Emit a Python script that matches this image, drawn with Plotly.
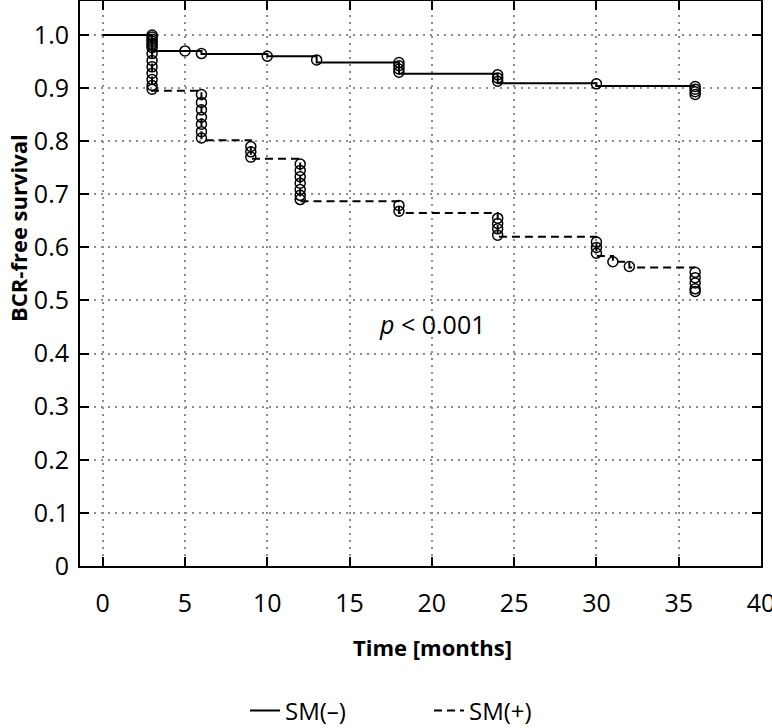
import plotly.graph_objects as go

# ---- data ----
neg_t = [0, 3, 6, 10, 13, 18, 24, 30, 36]
neg_s = [1.0, 0.970, 0.964, 0.960, 0.948, 0.927, 0.909, 0.904, 0.904]

pos_t = [0, 3, 6, 9, 12, 18, 24, 30, 31, 32, 36]
pos_s = [1.0, 0.895, 0.802, 0.767, 0.687, 0.665, 0.620, 0.584, 0.573, 0.562, 0.562]

neg_cens_t = [3, 3, 3, 3, 3, 3, 3, 5, 6, 10, 13, 18, 18, 18, 18, 24, 24, 24, 30, 36, 36, 36, 36]
neg_cens_s = [1.0, 0.996, 0.992, 0.988, 0.984, 0.980, 0.976, 0.970, 0.965, 0.960, 0.953,
              0.948, 0.942, 0.936, 0.930, 0.925, 0.919, 0.913, 0.908, 0.903, 0.898, 0.893, 0.888]

pos_cens_t = [3, 3, 3, 3, 3, 3, 3,
              6, 6, 6, 6, 6, 6, 6,
              9, 9, 9,
              12, 12, 12, 12, 12, 12, 12,
              18, 18,
              24, 24, 24, 24,
              30, 30, 30,
              31, 32,
              36, 36, 36, 36, 36]
pos_cens_s = [0.965, 0.952, 0.940, 0.928, 0.916, 0.905, 0.898,
              0.888, 0.873, 0.859, 0.845, 0.832, 0.818, 0.806,
              0.790, 0.780, 0.770,
              0.757, 0.745, 0.733, 0.721, 0.709, 0.698, 0.690,
              0.679, 0.668,
              0.655, 0.645, 0.635, 0.623,
              0.610, 0.600, 0.589,
              0.573, 0.564,
              0.553, 0.543, 0.533, 0.522, 0.517]

x_ticks = [0, 5, 10, 15, 20, 25, 30, 35, 40]
y_ticks = [0, 0.1, 0.2, 0.3, 0.4, 0.5, 0.6, 0.7, 0.8, 0.9, 1.0]
y_ticktext = ["0", "0.1", "0.2", "0.3", "0.4", "0.5", "0.6", "0.7", "0.8", "0.9", "1.0"]

FONT = "Open Sans"

fig = go.Figure()
fig.add_trace(go.Scatter(x=neg_t, y=neg_s, mode="lines", line_shape="hv",
                         line=dict(color="black", width=2), name="SM(–)"))
fig.add_trace(go.Scatter(x=pos_t, y=pos_s, mode="lines", line_shape="hv",
                         line=dict(color="black", width=2, dash="8px,5px"), name="SM(+)"))
fig.add_trace(go.Scatter(x=neg_cens_t, y=neg_cens_s, mode="markers", showlegend=False,
                         marker=dict(symbol="circle-open", size=10, color="black",
                                     line=dict(width=1.5, color="black"))))
fig.add_trace(go.Scatter(x=pos_cens_t, y=pos_cens_s, mode="markers", showlegend=False,
                         marker=dict(symbol="circle-open", size=10, color="black",
                                     line=dict(width=1.5, color="black"))))

fig.add_annotation(x=20.0, y=0.455, xref="x", yref="y", showarrow=False,
                   text="<i>p</i> < 0.001", font=dict(family=FONT, size=25, color="black"))

# axis titles placed as annotations (they sit off-centre in the original)
fig.add_annotation(x=(432 - 80) / 681, y=-(647 - 566) / 565, xref="paper", yref="paper",
                   showarrow=False, xanchor="center", yanchor="middle",
                   text="<b>Time [months]</b>", font=dict(family=FONT, size=22, color="black"))
fig.add_annotation(x=-(80 - 18) / 681, y=(566 - 228) / 565, xref="paper", yref="paper",
                   showarrow=False, xanchor="center", yanchor="middle", textangle=-90,
                   text="<b>BCR-free survival</b>", font=dict(family=FONT, size=22, color="black"))

axis_common = dict(showline=True, linecolor="black", linewidth=2, mirror="ticks",
                   ticks="inside", ticklen=9, tickwidth=2, tickcolor="black",
                   showgrid=True, gridcolor="#8c8c8c", gridwidth=1.5, griddash="2px,5px",
                   zeroline=False, automargin=False,
                   tickfont=dict(family=FONT, size=25, color="black"))

fig.update_xaxes(range=[-1.38, 40], tickvals=x_ticks, ticklabelstandoff=14,
                 ticklabeloverflow="allow", **axis_common)
fig.update_yaxes(range=[0, 1.064], tickvals=y_ticks, ticktext=y_ticktext, ticklabelstandoff=4,
                 **axis_common)

fig.update_layout(
    width=772, height=728,
    margin=dict(l=80, r=11, t=1, b=162, autoexpand=False),
    plot_bgcolor="white", paper_bgcolor="white",
    font=dict(family=FONT, color="black"),
    showlegend=True,
    legend=dict(orientation="h", x=(245 - 80) / 681, xanchor="left",
                yref="container", y=(728 - 711) / 728, yanchor="middle",
                font=dict(family=FONT, size=24, color="black"),
                entrywidth=139, entrywidthmode="pixels", tracegroupgap=0),
)

fig.write_html("out.html", config={"displayModeBar": False},
               post_script="document.body.style.margin='0';document.body.style.overflow='hidden';")
